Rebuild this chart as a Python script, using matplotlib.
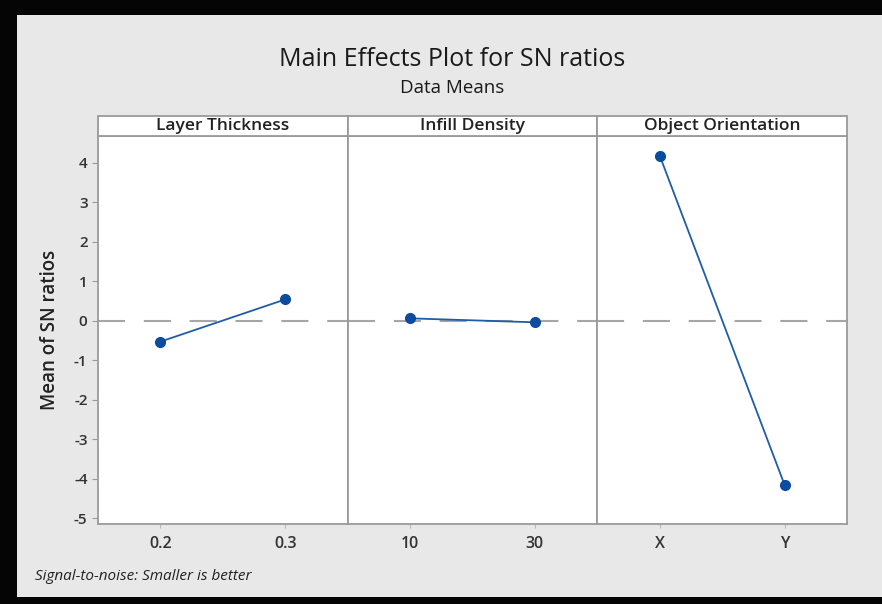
import matplotlib
matplotlib.use("Agg")
import matplotlib.pyplot as plt
from matplotlib.patches import Rectangle

# Factor names and their levels
factors = ["Layer Thickness", "Infill Density", "Object Orientation"]
layer_levels = ["0.2", "0.3"]
infill_levels = ["10", "30"]
orient_levels = ["X", "Y"]

# Mean SN ratio at each level
layer_means = [-0.53, 0.54]
infill_means = [0.06, -0.04]
orient_means = [4.18, -4.16]

grand_mean = 0.0
y_ticks = [4, 3, 2, 1, 0, -1, -2, -3, -4, -5]

levels = [layer_levels, infill_levels, orient_levels]
means = [layer_means, infill_means, orient_means]

plt.rcParams["font.family"] = ["Open Sans", "DejaVu Sans"]

W, H = 882, 604
fig = plt.figure(figsize=(W / 100, H / 100), dpi=100, facecolor="#e8e8e8")

# black frame around the graph window
black = "#050505"
fig.patches.append(Rectangle((0, 1 - 15 / H), 1, 15 / H, transform=fig.transFigure,
                             facecolor=black, edgecolor="none", zorder=-1))
fig.patches.append(Rectangle((0, 0), 17 / W, 1, transform=fig.transFigure,
                             facecolor=black, edgecolor="none", zorder=-1))
fig.patches.append(Rectangle((0, 0), 1, 7 / H, transform=fig.transFigure,
                             facecolor=black, edgecolor="none", zorder=-1))

left, right = 98 / W, 847 / W
bottom, top = 1 - 524 / H, 1 - 136 / H
axes = fig.subplots(1, 3, sharey=True,
                    gridspec_kw=dict(left=left, right=right, bottom=bottom, top=top, wspace=0))

spine_col = "#9a9a9a"
line_col = "#1f5da8"
marker_col = "#0b4c9e"
ax_h_px = 524 - 136
strip_h = 20 / ax_h_px

for ax, name, lv, mv in zip(axes, factors, levels, means):
    ax.set_facecolor("white")
    x = list(range(len(lv)))
    ax.axhline(grand_mean, color="#a6a6a6", lw=1.5, ls=(0, (13, 9)), zorder=1)
    ax.plot(x, mv, color=line_col, lw=1.3, marker="o", ms=7,
            mfc=marker_col, mec=marker_col, zorder=3)
    ax.set_xlim(-0.5, 1.5)
    ax.set_xticks(x)
    ax.set_xticklabels(lv, fontsize=11.5, fontweight="semibold", color="#333333")
    for s in ax.spines.values():
        s.set_color(spine_col)
        s.set_linewidth(1.3)
    ax.tick_params(axis="x", length=3, color="#bbbbbb", pad=6)
    ax.tick_params(axis="y", length=4, color=spine_col, labelsize=11, labelcolor="#333333")
    # header strip with the factor name
    ax.add_patch(Rectangle((0, 1), 1, strip_h, transform=ax.transAxes, clip_on=False,
                           facecolor="white", edgecolor=spine_col, lw=1.3, zorder=5))
    ax.text(0.5, 1 + strip_h / 2, name, transform=ax.transAxes, ha="center", va="center",
            fontsize=12.5, fontweight="semibold", color="#222222", zorder=6)

for ax in axes[1:]:
    ax.tick_params(axis="y", left=False)

axes[0].set_ylim(-5.15, 4.68)
axes[0].set_yticks(y_ticks)
axes[0].set_yticklabels([str(t) for t in y_ticks], fontweight="semibold")
axes[0].set_ylabel("Mean of SN ratios", fontsize=13.5, fontweight="semibold",
                   color="#222222", labelpad=10)

fig.text(452 / W, 1 - 60 / H, "Main Effects Plot for SN ratios", ha="center", va="center",
         fontsize=18, color="#1a1a1a")
fig.text(452 / W, 1 - 88 / H, "Data Means", ha="center", va="center",
         fontsize=13.5, color="#1a1a1a")
fig.text(35 / W, 1 - 577 / H, "Signal-to-noise: Smaller is better", ha="left", va="center",
         fontsize=11, style="italic", color="#222222")

fig.savefig("out.png", dpi=100, facecolor=fig.get_facecolor())
